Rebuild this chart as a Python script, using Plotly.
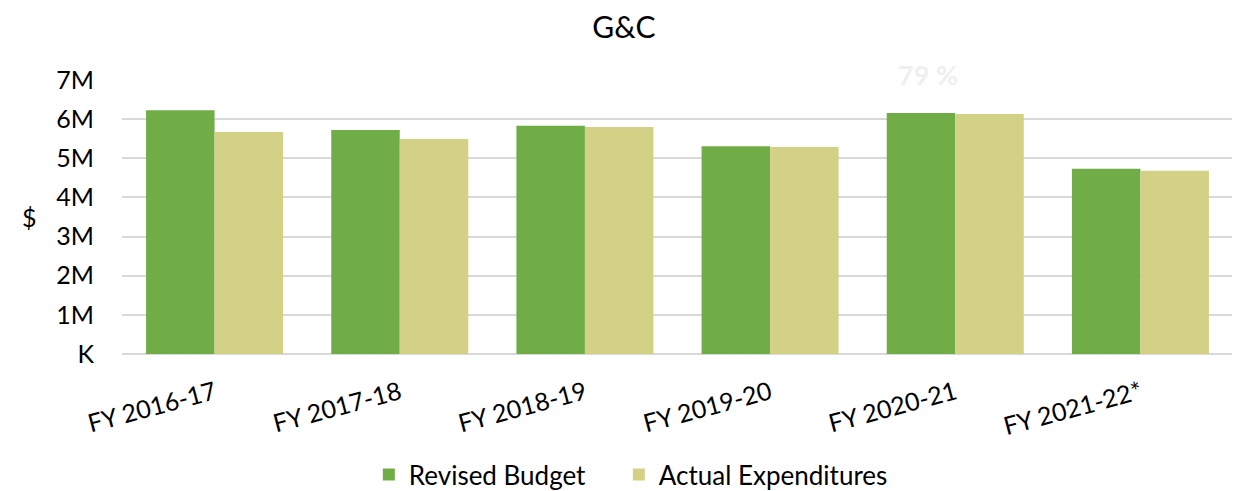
import plotly.graph_objects as go

categories = ["FY 2016-17", "FY 2017-18", "FY 2018-19", "FY 2019-20", "FY 2020-21", "FY 2021-22*"]
revised_budget = [6.23e6, 5.72e6, 5.83e6, 5.31e6, 6.16e6, 4.73e6]
actual_expenditures = [5.67e6, 5.49e6, 5.80e6, 5.29e6, 6.13e6, 4.68e6]
tick_vals = [0, 1e6, 2e6, 3e6, 4e6, 5e6, 6e6, 7e6]
tick_text = ["K", "1M", "2M", "3M", "4M", "5M", "6M", "7M"]

FONT = "Lato"

fig = go.Figure()
fig.add_trace(go.Bar(x=categories, y=revised_budget, name="Revised Budget",
                     legendwidth=205,
                     marker=dict(color="#70AD47", line=dict(width=0))))
fig.add_trace(go.Bar(x=categories, y=actual_expenditures, name="Actual Expenditures",
                     marker=dict(color="#D3D186", line=dict(width=0))))

fig.update_layout(
    width=1232, height=483,
    paper_bgcolor="white", plot_bgcolor="white",
    margin=dict(l=114, r=7, t=72, b=137, autoexpand=False),
    barmode="group", bargap=0.26, bargroupgap=0,
    font=dict(family=FONT, size=25, color="#000000"),
    title=dict(text="G&C", x=0.5, xanchor="center", y=0.96, yanchor="middle",
               font=dict(family=FONT, size=30, color="#000000")),
    legend=dict(orientation="h", x=0.458, xanchor="center", y=-0.44, yanchor="middle",
                font=dict(family=FONT, size=26), itemwidth=30, traceorder="normal"),
    showlegend=True,
)
fig.update_xaxes(tickangle=-15, showgrid=False, showline=False, ticks="",
                 automargin=False, ticklabelstandoff=19,
                 tickfont=dict(family=FONT, size=25))
fig.update_yaxes(range=[0, 7e6], tickvals=tick_vals, ticktext=tick_text,
                 showgrid=True, gridcolor="#D9D9D9", gridwidth=1.5,
                 zeroline=True, zerolinecolor="#D9D9D9", zerolinewidth=1.5,
                 ticks="", ticklabelstandoff=27, automargin=False,
                 tickfont=dict(family=FONT, size=25))
fig.add_annotation(xref="paper", yref="paper", x=-0.083, y=0.5, xanchor="center",
                   yanchor="middle", text="$", showarrow=False,
                   font=dict(family=FONT, size=25, color="#000000"))
fig.add_annotation(x="FY 2020-21", y=7e6, yshift=6, text="<b>79 %</b>", showarrow=False,
                   xshift=-27, font=dict(family=FONT, size=27, color="#EFEFEF"))

fig.write_html("out.html")
